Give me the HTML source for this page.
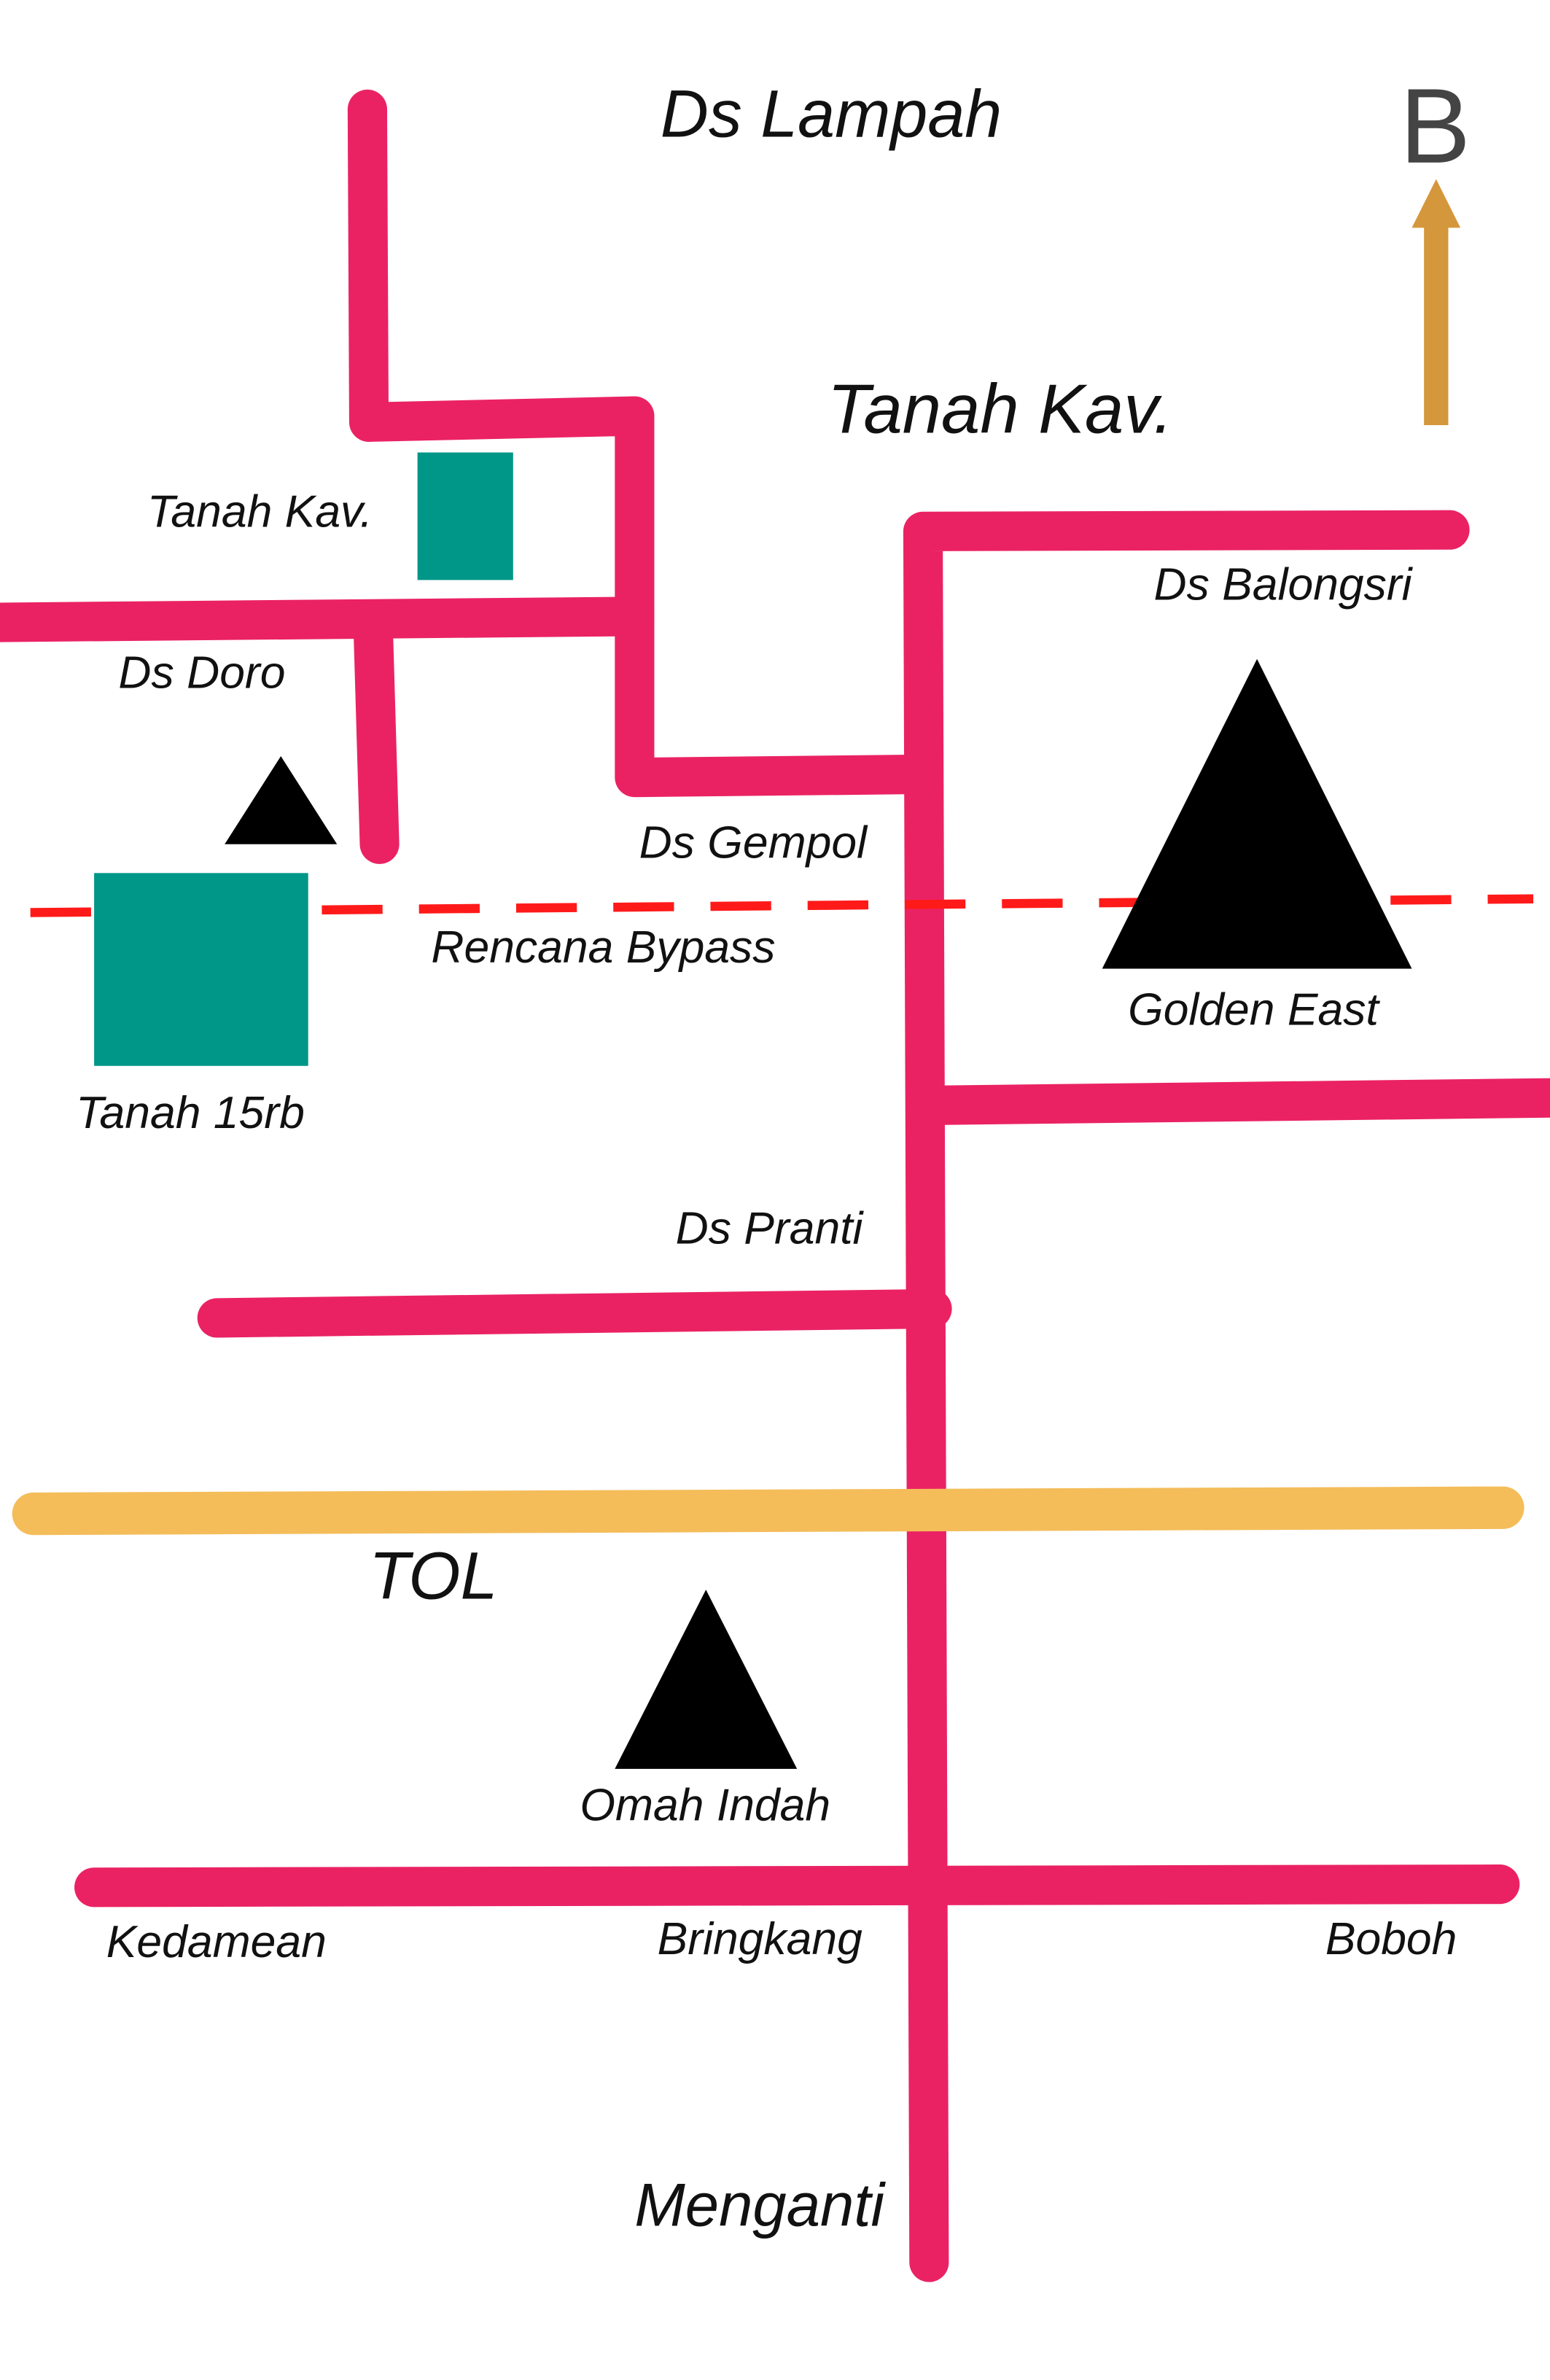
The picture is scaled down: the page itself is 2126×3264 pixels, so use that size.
<!DOCTYPE html>
<html><head><style>html,body{margin:0;padding:0;background:#fff}svg{display:block}text{font-family:"Liberation Sans",sans-serif;font-style:italic;fill:#111}</style></head>
<body>
<svg width="2126" height="3264" viewBox="0 0 1021 1567.5" xmlns="http://www.w3.org/2000/svg">
<rect width="1021" height="1567.5" fill="#fff"/>
<g fill="none" stroke="#EA2264" stroke-width="26" stroke-linecap="round" stroke-linejoin="round">
<polyline points="242,72 243,278 418,274 418,512 606,510"/>
<line x1="-10" y1="410" x2="418" y2="406"/>
<line x1="246" y1="420" x2="250" y2="556"/>
<polyline points="955,349 608,350 612,1490"/>
<line x1="612" y1="728" x2="1030" y2="723"/>
<line x1="143" y1="868" x2="614" y2="862"/>
<line x1="62" y1="1243" x2="988" y2="1241"/>
</g>
<line x1="22" y1="997" x2="990" y2="993" stroke="#F4BD5A" stroke-width="28" stroke-linecap="round"/>
<line x1="20" y1="601" x2="1010" y2="592" stroke="#FF1A1A" stroke-width="6" stroke-dasharray="40,24"/>
<rect x="275" y="298" width="63" height="84" fill="#009688"/>
<rect x="62" y="575" width="141" height="127" fill="#009688"/>
<polygon points="185,498 148,556 222,556" fill="#000"/>
<polygon points="828,434 726,638 930,638" fill="#000"/>
<polygon points="465,1047 405,1165 525,1165" fill="#000"/>
<rect x="938" y="146" width="16" height="134" fill="#D4973C"/>
<polygon points="946,118 930,150 962,150" fill="#D4973C"/>
<text x="922" y="107" font-size="70" style="font-style:normal;fill:#444">B</text>
<text x="435" y="90" font-size="44">Ds Lampah</text>
<text x="545" y="285" font-size="46">Tanah Kav.</text>
<text x="97" y="347" font-size="30">Tanah Kav.</text>
<text x="760" y="395" font-size="30">Ds Balongsri</text>
<text x="78" y="453" font-size="30">Ds Doro</text>
<text x="421" y="565" font-size="30">Ds Gempol</text>
<text x="284" y="634" font-size="30">Rencana Bypass</text>
<text x="743" y="675" font-size="30">Golden East</text>
<text x="50" y="743" font-size="30">Tanah 15rb</text>
<text x="445" y="819" font-size="30">Ds Pranti</text>
<text x="243" y="1053" font-size="44">TOL</text>
<text x="382" y="1199" font-size="30">Omah Indah</text>
<text x="70" y="1289" font-size="30">Kedamean</text>
<text x="433" y="1287" font-size="30">Bringkang</text>
<text x="873" y="1287" font-size="30">Boboh</text>
<text x="418" y="1466" font-size="40">Menganti</text>
</svg>
</body></html>
